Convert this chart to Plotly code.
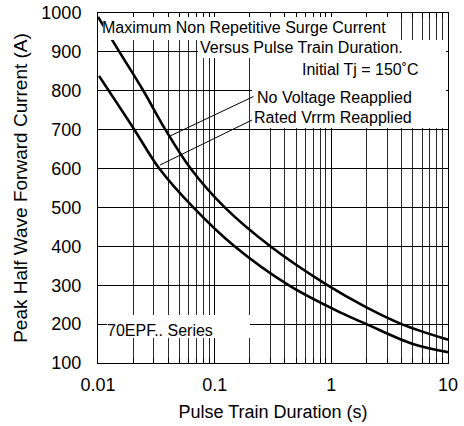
import plotly.graph_objects as go

# ---- data ----
pulse_no_voltage = [0.0100, 0.0155, 0.0245, 0.0375, 0.0622, 0.122, 0.30, 0.925, 2.0, 4.0, 10.0]
current_no_voltage = [990, 897, 800, 702, 600, 500, 400, 300, 243, 200, 160]

pulse_rated = [0.0102, 0.0205, 0.0335, 0.0656, 0.148, 0.43, 1.19, 2.0, 5.0, 10.0]
current_rated = [838, 700, 600, 500, 400, 300, 230, 200, 149, 128]

x_tick_values = [0.01, 0.1, 1, 10]
x_tick_labels = ["0.01", "0.1", "1", "10"]
y_tick_values = [100, 200, 300, 400, 500, 600, 700, 800, 900, 1000]

FONT = "Arial, Liberation Sans, sans-serif"
W, H = 464, 426
ML, MR, MT, MB = 98, 16, 13, 63
PW, PH = W - ML - MR, H - MT - MB


def px(xp):
    return (xp - ML) / PW


def py(yp):
    return (H - MB - yp) / PH


fig = go.Figure()
for xs, ys, name in [(pulse_no_voltage, current_no_voltage, "No Voltage Reapplied"),
                     (pulse_rated, current_rated, "Rated Vrrm Reapplied")]:
    fig.add_trace(go.Scatter(x=xs, y=ys, mode="lines", name=name,
                             line=dict(color="black", width=2.6, shape="spline", smoothing=1.0),
                             showlegend=False, hoverinfo="skip"))

# white label boxes (pixel rectangles)
boxes = [
    (103, 395, 17, 40),
    (198, 446, 40, 58),
    (253, 446, 58, 84),
    (252, 446, 84, 106),
    (252, 446, 106, 128),
    (107, 250, 315, 338),
]
shapes = []
for x0, x1, y0, y1 in boxes:
    shapes.append(dict(type="rect", xref="paper", yref="paper",
                       x0=px(x0), x1=px(x1), y0=py(y1), y1=py(y0),
                       fillcolor="white", line=dict(width=0), layer="above"))
# leader lines
for (x0, y0, x1, y1) in [(253.5, 96.5, 169, 136.5), (252, 120, 160, 165)]:
    shapes.append(dict(type="line", xref="paper", yref="paper",
                       x0=px(x0), y0=py(y0), x1=px(x1), y1=py(y1),
                       line=dict(color="black", width=1), layer="above"))

labels = [
    ("Maximum Non Repetitive Surge Current", 101, 27),
    ("Versus Pulse Train Duration.", 199, 48),
    ("Initial Tj = 150˚C", 301, 70),
    ("No Voltage Reapplied", 256, 97),
    ("Rated Vrrm Reapplied", 253, 117),
    ("70EPF.. Series", 106, 330),
]
annotations = []
for text, lx, ly in labels:
    annotations.append(dict(text=text, xref="paper", yref="paper", x=px(lx), y=py(ly),
                            xanchor="left", yanchor="middle", showarrow=False,
                            borderpad=0, font=dict(family=FONT, size=16, color="black")))

fig.update_layout(
    width=W, height=H,
    margin=dict(l=ML, r=MR, t=MT, b=MB),
    paper_bgcolor="white", plot_bgcolor="white",
    shapes=shapes, annotations=annotations,
    font=dict(family=FONT, color="black"),
)
fig.update_xaxes(
    type="log", range=[-2, 1], automargin=False,
    tickvals=x_tick_values, ticktext=x_tick_labels,
    tickfont=dict(size=18, family=FONT, color="black"),
    ticks="inside", ticklen=5, tickcolor="black", ticklabelstandoff=5,
    showgrid=True, gridcolor="black", gridwidth=1,
    minor=dict(dtick="D1", showgrid=True, gridcolor="#2a2a2a", gridwidth=1,
               ticks="inside", ticklen=5, tickcolor="black"),
    showline=True, linecolor="black", linewidth=1, mirror="ticks",
    title=dict(text="Pulse Train Duration (s)", font=dict(size=18, family=FONT, color="black"), standoff=11),
    zeroline=False,
)
fig.update_yaxes(
    range=[100, 1000], tickvals=y_tick_values, automargin=False,
    tickfont=dict(size=18, family=FONT, color="black"),
    ticks="inside", ticklen=5, tickcolor="black", ticklabelstandoff=12,
    showgrid=True, gridcolor="black", gridwidth=1,
    showline=True, linecolor="black", linewidth=1, mirror="ticks",
    title=dict(text="Peak Half Wave Forward Current (A)", font=dict(size=19, family=FONT, color="black"), standoff=8),
    zeroline=False,
)
fig.write_html("out.html", config={"displayModeBar": False},
               post_script="document.body.style.margin='0';document.body.style.padding='0';")
